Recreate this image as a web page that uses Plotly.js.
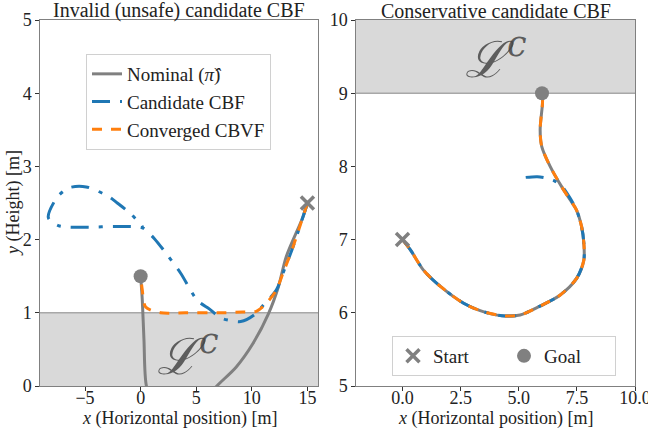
<!DOCTYPE html>
<html>
<head>
<meta charset="utf-8">
<script src="https://cdn.plot.ly/plotly-3.0.1.min.js"></script>
<style>html,body{margin:0;padding:0;background:#fff;}#chart{width:648px;height:430px;}</style>
</head>
<body>
<div id="chart"></div>
<script>
// ---- Left panel: Invalid (unsafe) candidate CBF ----
var nominalLX = [15.0, 14.6, 13.1, 12.4, 11.5, 10.1, 8.6, 6.85, 5.0, 3.0, 1.3, 0.52, 0.3, 0.15, 0.0];
var nominalLY = [2.5, 2.31, 1.77, 1.36, 0.99, 0.58, 0.26, 0.0, -0.3, -0.45, -0.3, 0.0, 0.63, 1.17, 1.5];

var convergedLX = [15.0, 13.7, 12.8, 12.2, 11.3, 10.4, 9.2, 7.0, 4.0, 1.8, 0.45, 0.15, 0.0];
var convergedLY = [2.5, 1.9, 1.54, 1.31, 1.13, 1.02, 1.01, 1.0, 1.0, 1.0, 1.08, 1.31, 1.5];

var candidateLX = [15.0, 13.7, 12.8, 12.2, 11.0, 10.2, 9.0, 7.9, 7.2, 6.2, 5.1, 3.6, 2.4, 1.2, 0.3, 0.0, -2.3, -4.7, -7.4, -8.3, -7.5, -6.4, -4.9, -2.9, -2.1, -0.8, 0.2];
var candidateLY = [2.5, 1.9, 1.54, 1.31, 1.1, 0.97, 0.88, 0.9, 0.93, 1.05, 1.17, 1.54, 1.79, 2.02, 2.15, 2.17, 2.18, 2.17, 2.19, 2.3, 2.58, 2.71, 2.72, 2.59, 2.5, 2.34, 2.17];

var startL = [15.0, 2.5];
var goalL = [0.0, 1.5];

// ---- Right panel: Conservative candidate CBF ----
var nominalRX = [0.0, 0.34, 0.91, 1.63, 2.63, 3.34, 4.27, 5.06, 5.91, 6.77, 7.49, 7.8, 7.8, 7.7, 7.49, 7.3, 6.85, 6.35, 5.99, 5.92, 6.02, 6.02];
var nominalRY = [7.0, 6.86, 6.58, 6.36, 6.13, 6.03, 5.96, 5.97, 6.09, 6.24, 6.47, 6.72, 6.95, 7.18, 7.40, 7.5, 7.72, 8.0, 8.27, 8.5, 8.86, 9.0];

var convergedRX = [0.0, 0.34, 0.91, 1.63, 2.63, 3.34, 4.27, 5.06, 5.91, 6.77, 7.49, 7.8, 7.8, 7.7, 7.49, 7.3, 6.85, 6.35, 5.99, 5.92, 6.02, 6.02];
var convergedRY = [7.0, 6.86, 6.58, 6.36, 6.13, 6.03, 5.96, 5.97, 6.09, 6.24, 6.47, 6.72, 6.95, 7.18, 7.40, 7.5, 7.72, 8.0, 8.27, 8.5, 8.86, 9.0];

var candidateRX = [0.0, 0.34, 0.91, 1.63, 2.63, 3.34, 4.27, 5.06, 5.91, 6.77, 7.49, 7.8, 7.8, 7.7, 7.49, 7.2, 6.85, 6.5, 6.2, 5.8, 5.3];
var candidateRY = [7.0, 6.86, 6.58, 6.36, 6.13, 6.03, 5.96, 5.97, 6.09, 6.24, 6.47, 6.72, 6.95, 7.18, 7.40, 7.57, 7.73, 7.81, 7.84, 7.86, 7.85];

var startR = [0.0, 7.0];
var goalR = [6.0, 9.0];

// tick labels
var leftXTicks = [-5, 0, 5, 10, 15];
var leftYTicks = [0, 1, 2, 3, 4, 5];
var rightXTicks = [0, 2.5, 5, 7.5, 10];
var rightYTicks = [5, 6, 7, 8, 9, 10];

var titles = ["Invalid (unsafe) candidate CBF", "Conservative candidate CBF"];
var xTitle = "<i>x</i> (Horizontal position) [m]";
var yTitle = "<i>y</i> (Height) [m]";
var seriesNames = ["Nominal (<i>π\u0302</i>)", "Candidate CBF", "Converged CBVF"];
var markerNames = ["Start", "Goal"];

var GRAY = "#808080", BLUE = "#1f77b4", ORANGE = "#ff7f0e";
var FONT = "Liberation Serif";
var TXT = "#222";

function lineTrace(x, y, name, color, dash, xa, ya, show) {
  return {x: x, y: y, name: name, type: "scatter", mode: "lines",
    line: {color: color, width: 3, dash: dash, shape: "spline", smoothing: 0.8},
    xaxis: xa, yaxis: ya, showlegend: show, legend: "legend", hoverinfo: "skip"};
}
function markTrace(pt, name, sym, xa, ya, show) {
  var m = sym === "x"
    ? {symbol: "x-thin", size: 13, color: GRAY, line: {color: GRAY, width: 3.5}}
    : {symbol: "circle", size: 14, color: GRAY, line: {width: 0}};
  return {x: [pt[0]], y: [pt[1]], name: name, type: "scatter", mode: "markers", marker: m,
    xaxis: xa, yaxis: ya, showlegend: show, legend: "legend2", hoverinfo: "skip"};
}

var dashCand = "18px,10px,4px,10px";
var dashConv = "10px,9px";

var traces = [
  lineTrace(nominalLX, nominalLY, seriesNames[0], GRAY, "solid", "x", "y", true),
  lineTrace(candidateLX, candidateLY, seriesNames[1], BLUE, dashCand, "x", "y", true),
  lineTrace(convergedLX, convergedLY, seriesNames[2], ORANGE, dashConv, "x", "y", true),
  markTrace(startL, markerNames[0], "x", "x", "y", false),
  markTrace(goalL, markerNames[1], "circle", "x", "y", false),
  lineTrace(nominalRX, nominalRY, seriesNames[0], GRAY, "solid", "x2", "y2", false),
  lineTrace(candidateRX, candidateRY, seriesNames[1], BLUE, dashCand, "x2", "y2", false),
  lineTrace(convergedRX, convergedRY, seriesNames[2], ORANGE, dashConv, "x2", "y2", false),
  markTrace(startR, markerNames[0], "x", "x2", "y2", true),
  markTrace(goalR, markerNames[1], "circle", "x2", "y2", true)
];

var axisBase = {showgrid: false, zeroline: false, showline: true, mirror: true, automargin: false,
  linecolor: "#808080", linewidth: 1.2, ticks: "outside", ticklen: 3.5, tickwidth: 1,
  ticklabeloverflow: "allow",
  tickcolor: "#333", tickfont: {family: FONT, size: 18, color: TXT}, fixedrange: true};

function ax(extra) { return Object.assign({}, axisBase, extra); }

var yDom = [1 - 386/430, 1 - 20/430];
var L0 = 40, L1 = 318, R0 = 356, R1 = 635;

function paperAnn(text, px, py, size, angle) {
  return {text: text, xref: "paper", yref: "paper", x: px/648, y: 1 - py/430,
    xanchor: "center", yanchor: "middle", showarrow: false, textangle: angle || 0,
    font: {family: FONT, size: size, color: TXT}};
}

var layout = {
  width: 648, height: 430,
  margin: {l: 0, r: 0, t: 0, b: 0, autoexpand: false},
  paper_bgcolor: "#fff", plot_bgcolor: "#fff",
  font: {family: FONT, color: TXT},
  xaxis: ax({domain: [L0/648, L1/648], range: [-9.05, 15.95], tickvals: leftXTicks, anchor: "y", ticklabelstandoff: -8}),
  yaxis: ax({domain: yDom, range: [0, 5], tickvals: leftYTicks, anchor: "x"}),
  xaxis2: ax({domain: [R0/648, R1/648], range: [-2, 10], tickvals: rightXTicks, tickformat: ".1f", anchor: "y2", ticklabelstandoff: -8}),
  yaxis2: ax({domain: yDom, range: [5, 10], tickvals: rightYTicks, anchor: "x2"}),
  legend: {x: 86/648, y: 1 - 54/430, xanchor: "left", yanchor: "top",
    bgcolor: "rgba(255,255,255,0.9)", bordercolor: "#d0d0d0", borderwidth: 1,
    font: {family: FONT, size: 19, color: TXT}},
  legend2: {x: 392/648, y: 1 - 336/430, xanchor: "left", yanchor: "top", orientation: "h",
    bgcolor: "rgba(255,255,255,0.9)", bordercolor: "#d0d0d0", borderwidth: 1,
    font: {family: FONT, size: 19, color: TXT}, entrywidth: 66},
  shapes: [
    {type: "rect", xref: "x domain", yref: "y", x0: 0, x1: 1, y0: 0, y1: 1, fillcolor: "#d9d9d9", line: {width: 0}, layer: "below"},
    {type: "line", xref: "x domain", yref: "y", x0: 0, x1: 1, y0: 1, y1: 1, line: {color: "#a8a8a8", width: 1.5}, layer: "below"},
    {type: "rect", xref: "x2 domain", yref: "y2", x0: 0, x1: 1, y0: 9, y1: 10, fillcolor: "#d9d9d9", line: {width: 0}, layer: "below"},
    {type: "line", xref: "x2 domain", yref: "y2", x0: 0, x1: 1, y0: 9, y1: 9, line: {color: "#a8a8a8", width: 1.5}, layer: "below"}
  ],
  annotations: [
    paperAnn(titles[0], (L0 + L1)/2, 11, 20),
    paperAnn(titles[1], (R0 + R1)/2, 11, 20),
    paperAnn(xTitle, (L0 + L1)/2, 418, 18),
    paperAnn(xTitle, (R0 + R1)/2, 418, 18),
    paperAnn(yTitle, 13, 203, 18, -90),
    {text: "<i>ℒ</i><sup><i>c</i></sup>", xref: "x", yref: "y", x: 4.3, y: 0.45, showarrow: false,
      font: {family: "DejaVu Serif", size: 50, color: "rgba(70,70,70,0.85)"}},
    {text: "<i>ℒ</i><sup><i>c</i></sup>", xref: "x2", yref: "y2", x: 4.0, y: 9.5, showarrow: false,
      font: {family: "DejaVu Serif", size: 50, color: "rgba(70,70,70,0.85)"}}
  ]
};

Plotly.newPlot("chart", traces, layout, {staticPlot: true, displayModeBar: false});
</script>
</body>
</html>
